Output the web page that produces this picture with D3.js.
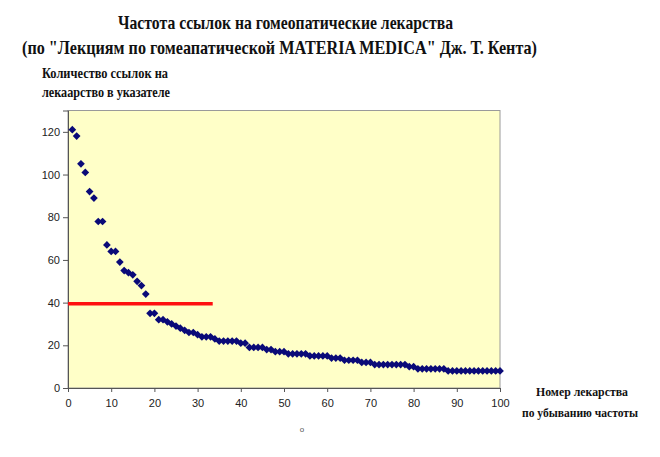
<!DOCTYPE html>
<html>
<head>
<meta charset="utf-8">
<script src="https://cdn.jsdelivr.net/npm/d3@7"></script>
<style>
  html, body { margin: 0; padding: 0; background: #ffffff; }
  svg { display: block; }
</style>
</head>
<body>
<div id="chart"></div>
<script>
// ---- data ----
const ranks = d3.range(1, 101);
const refCounts = [
  121, 118, 105, 101, 92, 89, 78, 78, 67, 64,
  64, 59, 55, 54, 53, 50, 48, 44, 35, 35,
  32, 32, 31, 30, 29, 28, 27, 26, 26, 25,
  24, 24, 24, 23, 22, 22, 22, 22, 22, 21,
  21, 19, 19, 19, 19, 18, 18, 17, 17, 17,
  16, 16, 16, 16, 16, 15, 15, 15, 15, 15,
  14, 14, 14, 13, 13, 13, 13, 12, 12, 12,
  11, 11, 11, 11, 11, 11, 11, 11, 10, 10,
  9, 9, 9, 9, 9, 9, 9, 8, 8, 8,
  8, 8, 8, 8, 8, 8, 8, 8, 8, 8
];
const thresholdX = [0, 33.5];
const thresholdY = 39.5;
const xTicks = [0, 10, 20, 30, 40, 50, 60, 70, 80, 90, 100];
const yTicks = [0, 20, 40, 60, 80, 100, 120];
const titleLines = [
  "Частота ссылок на гомеопатические лекарства",
  "(по  \"Лекциям по гомеапатической MATERIA MEDICA\" Дж. Т. Кента)"
];
const yLabelLines = ["Количество ссылок на", "лекаарство в указателе"];
const xLabelLines = ["Номер лекарства", "по убыванию частоты"];

// ---- layout ----
const W = 660, H = 457;
const svg = d3.select("#chart").append("svg").attr("width", W).attr("height", H);

const x = d3.scaleLinear().domain([0, 100]).range([68, 500]);
const y = d3.scaleLinear().domain([0, 130]).range([388, 110.5]);

// plot area
svg.append("rect")
  .attr("x", x(0)).attr("y", y(130))
  .attr("width", x(100) - x(0)).attr("height", y(0) - y(130))
  .attr("fill", "#FFFFC8")
  .attr("stroke", "#9a9a9a").attr("stroke-width", 1);

// axes
const yAxis = svg.append("g")
  .attr("transform", `translate(${x(0)},0)`)
  .call(d3.axisLeft(y).tickValues(yTicks).tickSize(5).tickPadding(3));
const xAxis = svg.append("g")
  .attr("transform", `translate(0,${y(0)})`)
  .call(d3.axisBottom(x).tickValues(xTicks).tickSize(4).tickPadding(7));
[xAxis, yAxis].forEach(g => {
  g.selectAll("path.domain").attr("stroke", "#555").attr("stroke-width", 1);
  g.selectAll(".tick line").attr("stroke", "#555");
  g.selectAll(".tick text")
    .attr("fill", "#222")
    .style("font-family", "'Liberation Sans', Arial, sans-serif")
    .style("font-size", "11px");
});

// red threshold line
svg.append("line")
  .attr("x1", x(thresholdX[0])).attr("x2", x(thresholdX[1]))
  .attr("y1", y(thresholdY)).attr("y2", y(thresholdY))
  .attr("stroke", "#FF1010").attr("stroke-width", 3.5);

// diamonds
const diamond = d3.symbol().type(d3.symbolSquare).size(30);
svg.append("g").selectAll("path")
  .data(ranks.map((r, i) => ({ r, v: refCounts[i] })))
  .join("path")
  .attr("d", diamond)
  .attr("transform", d => `translate(${x(d.r)},${y(d.v)}) rotate(45)`)
  .attr("fill", "#0A0A78");

// titles
const serif = "'Liberation Serif', 'Times New Roman', serif";
const title = svg.append("g").style("font-family", serif).style("font-weight", "bold").attr("fill", "#111");
title.append("text").attr("x", 118).attr("y", 29)
  .attr("textLength", 335).attr("lengthAdjust", "spacingAndGlyphs")
  .style("font-size", "19px").text(titleLines[0]);
title.append("text").attr("x", 22).attr("y", 54)
  .attr("textLength", 515).attr("lengthAdjust", "spacingAndGlyphs")
  .style("font-size", "19px").text(titleLines[1]);

const yl = svg.append("g").style("font-family", serif).style("font-weight", "bold").attr("fill", "#111").style("font-size", "14px");
yl.append("text").attr("x", 42).attr("y", 78)
  .attr("textLength", 126).attr("lengthAdjust", "spacingAndGlyphs").text(yLabelLines[0]);
yl.append("text").attr("x", 42).attr("y", 97)
  .attr("textLength", 128).attr("lengthAdjust", "spacingAndGlyphs").text(yLabelLines[1]);

const xl = svg.append("g").style("font-family", serif).style("font-weight", "bold").attr("fill", "#111").style("font-size", "13px");
xl.append("text").attr("x", 536).attr("y", 396)
  .attr("textLength", 92).attr("lengthAdjust", "spacingAndGlyphs").text(xLabelLines[0]);
xl.append("text").attr("x", 522).attr("y", 417)
  .attr("textLength", 116).attr("lengthAdjust", "spacingAndGlyphs").text(xLabelLines[1]);

// small stray mark
svg.append("text").attr("x", 302).attr("y", 432).attr("text-anchor", "middle")
  .style("font-family", "'Liberation Sans', Arial, sans-serif").style("font-size", "8px")
  .attr("fill", "#555").text("o");
</script>
</body>
</html>
